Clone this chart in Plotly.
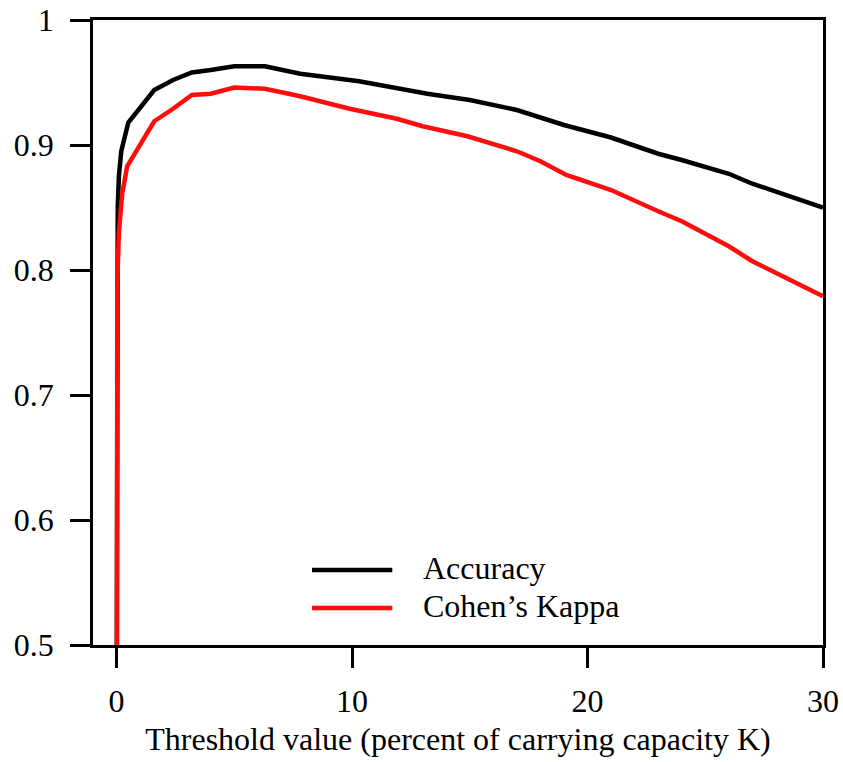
import plotly.graph_objects as go

# Threshold (percent of K) and metrics
acc_x = [0, 0.02, 0.05, 0.1, 0.2, 0.5, 1.0, 1.6, 2.4, 3.2, 4.0, 5.0, 6.3, 7.8,
         10.3, 13.2, 15.0, 17.0, 19.0, 21.0, 23.0, 24.0, 26.0, 27.0, 30.0]
acc_y = [0.40, 0.80, 0.85, 0.875, 0.895, 0.918, 0.930, 0.944, 0.952, 0.958, 0.960,
         0.963, 0.963, 0.957, 0.951, 0.941, 0.936, 0.928, 0.916, 0.906, 0.893,
         0.888, 0.877, 0.869, 0.850]

kap_x = [0, 0.03, 0.1, 0.24, 0.45, 1.0, 1.6, 2.4, 3.2, 4.0, 5.0, 6.3, 7.8, 9.9,
         11.9, 13.0, 14.9, 17.0, 18.0, 19.1, 21.0, 23.0, 24.0, 26.0, 27.0, 30.0]
kap_y = [0.0, 0.79, 0.83, 0.861, 0.883, 0.901, 0.919, 0.929, 0.940, 0.941, 0.946,
         0.945, 0.939, 0.929, 0.921, 0.915, 0.907, 0.895, 0.887, 0.876, 0.864,
         0.847, 0.839, 0.819, 0.807, 0.779]

x_ticks = [0, 10, 20, 30]
y_ticks = [0.5, 0.6, 0.7, 0.8, 0.9, 1.0]
y_ticktext = ["0.5", "0.6", "0.7", "0.8", "0.9", "1"]

series_names = ["Accuracy", "Cohen\u2019s Kappa"]
series_colors = ["#000000", "#ff0d0d"]

FONT = "Liberation Serif"
FS = 32

fig = go.Figure()
fig.add_trace(go.Scatter(x=acc_x, y=acc_y, mode="lines", name=series_names[0],
                         line=dict(color=series_colors[0], width=4.5), showlegend=False))
fig.add_trace(go.Scatter(x=kap_x, y=kap_y, mode="lines", name=series_names[1],
                         line=dict(color=series_colors[1], width=4.5), showlegend=False))

# manual legend (long line samples as in the reference)
leg_y = [0.12, 0.0592]
for name, col, ly in zip(series_names, series_colors, leg_y):
    fig.add_shape(type="line", xref="paper", yref="paper", x0=0.30, x1=0.41,
                  y0=ly, y1=ly, line=dict(color=col, width=4.5))
    fig.add_annotation(xref="paper", yref="paper", x=0.449, y=ly + 0.003, text=name,
                       showarrow=False, xanchor="left", yanchor="middle",
                       font=dict(family=FONT, size=FS, color="black"))

axis_common = dict(showline=True, mirror=True, linecolor="black", linewidth=2.7,
                   ticks="outside", ticklen=20, tickwidth=2.7, tickcolor="black",
                   showgrid=False, zeroline=False, automargin=False,
                   tickfont=dict(family=FONT, size=FS, color="black"))

fig.update_xaxes(range=[-1, 30], tickvals=x_ticks, ticklabelstandoff=6,
                 title=dict(text="Threshold value (percent of carrying capacity K)",
                            font=dict(family=FONT, size=FS, color="black"), standoff=10),
                 **axis_common)
fig.update_yaxes(range=[0.5, 1], tickvals=y_ticks, ticktext=y_ticktext,
                 ticklabelstandoff=10, **axis_common)

fig.update_layout(width=843, height=762, margin=dict(l=93, r=20, t=20, b=117),
                  plot_bgcolor="white", paper_bgcolor="white",
                  font=dict(family=FONT, size=FS, color="black"))

fig.write_html("out.html")
